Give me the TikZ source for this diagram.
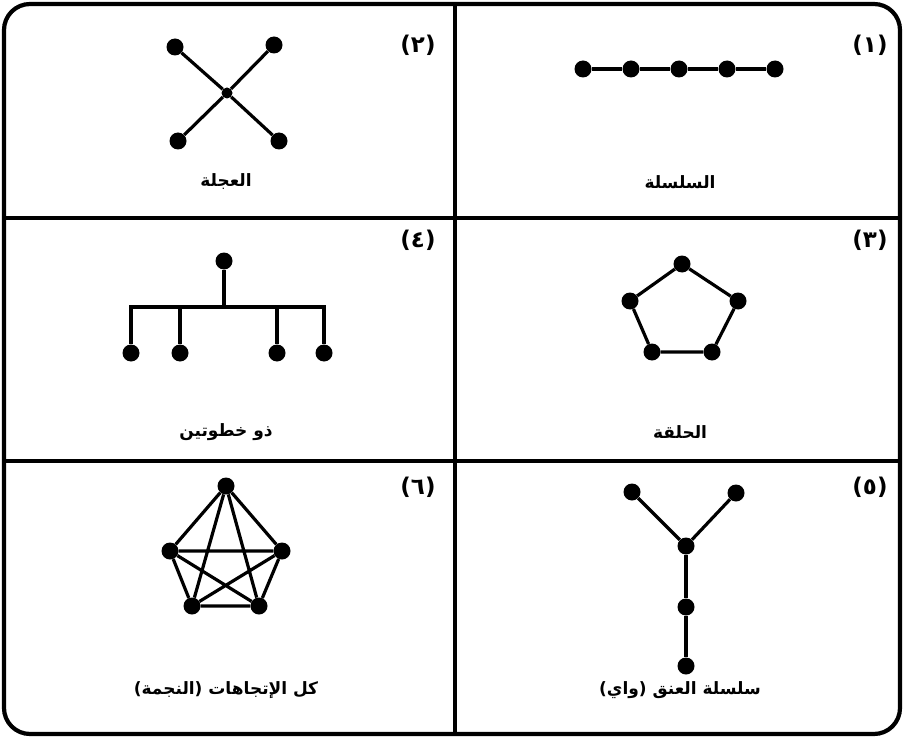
\documentclass[tikz,border=0pt]{standalone}
\usepackage{fontspec}
\newfontfamily\arabicfont[Script=Arabic]{DejaVu Sans}
\TeXXeTstate=1
\begin{document}
\begin{tikzpicture}[x=1pt,y=-1pt,
  dot/.style={circle,fill=black,inner sep=0pt,minimum size=17pt},
  hub/.style={circle,fill=black,inner sep=0pt,minimum size=11pt},
  edge/.style={line width=3.2pt},
  lab/.style={font=\arabicfont\bfseries\fontsize{17}{20}\selectfont},
  num/.style={font=\arabicfont\bfseries\fontsize{23}{25}\selectfont},
  frame/.style={line width=4.2pt}]
\useasboundingbox (0,0) rectangle (904,738);
% frame and dividers
\draw[frame,rounded corners=26pt] (4,4) rectangle (900,734);
\draw[frame] (455,4) -- (455,734);
\draw[frame] (4,218) -- (900,218);
\draw[frame] (4,461) -- (900,461);

% (1) chain
\node[dot] (c1) at (583,69) {};
\node[dot] (c2) at (631,69) {};
\node[dot] (c3) at (679,69) {};
\node[dot] (c4) at (727,69) {};
\node[dot] (c5) at (775,69) {};
\draw[edge] (c1) -- (c2) -- (c3) -- (c4) -- (c5);
\node[lab] (l1) at (680,182) {\beginR السلسلة\endR};
\node[num] (n1) at (870,45) {(١)};

% (2) wheel
\node[hub] (w0) at (227,93) {};
\node[dot] (w1) at (175,47) {};
\node[dot] (w2) at (274,45) {};
\node[dot] (w3) at (178,141) {};
\node[dot] (w4) at (279,141) {};
\draw[edge] (w1) -- (w0) -- (w4);
\draw[edge] (w2) -- (w0) -- (w3);
\node[lab] (l2) at (226,182) {\beginR العجلة\endR};
\node[num] (n2) at (418,45) {(٢)};

% (3) ring
\node[dot] (r1) at (682,264) {};
\node[dot] (r2) at (738,301) {};
\node[dot] (r3) at (712,352) {};
\node[dot] (r4) at (652,352) {};
\node[dot] (r5) at (630,301) {};
\draw[edge] (r1) -- (r2) -- (r3) -- (r4) -- (r5) -- (r1);
\node[lab] (l3) at (680,432) {\beginR الحلقة\endR};
\node[num] (n3) at (870,240) {(٣)};

% (4) two-step
\node[dot] (t0) at (224,261) {};
\coordinate (tj) at (224,307);
\coordinate (ta) at (131,307);
\coordinate (tb) at (180,307);
\coordinate (tc) at (277,307);
\coordinate (td) at (324,307);
\node[dot] (t1) at (131,353) {};
\node[dot] (t2) at (180,353) {};
\node[dot] (t3) at (277,353) {};
\node[dot] (t4) at (324,353) {};
\draw[edge] (t0) -- (tj);
\draw[edge,line cap=rect] (ta) -- (td);
\draw[edge] (ta) -- (t1);
\draw[edge] (tb) -- (t2);
\draw[edge] (tc) -- (t3);
\draw[edge] (td) -- (t4);
\node[lab] (l4) at (226,432) {\beginR ذو خطوتين\endR};
\node[num] (n4) at (418,240) {(٤)};

% (5) Y
\node[dot] (y1) at (632,492) {};
\node[dot] (y2) at (736,493) {};
\node[dot] (y3) at (686,546) {};
\node[dot] (y4) at (686,607) {};
\node[dot] (y5) at (686,666) {};
\draw[edge] (y1) -- (y3) -- (y2);
\draw[edge] (y3) -- (y4) -- (y5);
\node[lab] (l5) at (680,690) {\beginR سلسلة العنق (واي)\endR};
\node[num] (n5) at (870,487) {(٥)};

% (6) complete graph
\node[dot] (k1) at (226,486) {};
\node[dot] (k2) at (282,551) {};
\node[dot] (k3) at (259,606) {};
\node[dot] (k4) at (192,606) {};
\node[dot] (k5) at (170,551) {};
\draw[edge] (k1) -- (k2) -- (k3) -- (k4) -- (k5) -- (k1);
\draw[edge] (k1) -- (k3) -- (k5) -- (k2) -- (k4) -- (k1);
\node[lab] (l6) at (226,690) {\beginR كل الإتجاهات (النجمة)\endR};
\node[num] (n6) at (418,487) {(٦)};
\end{tikzpicture}
\end{document}
